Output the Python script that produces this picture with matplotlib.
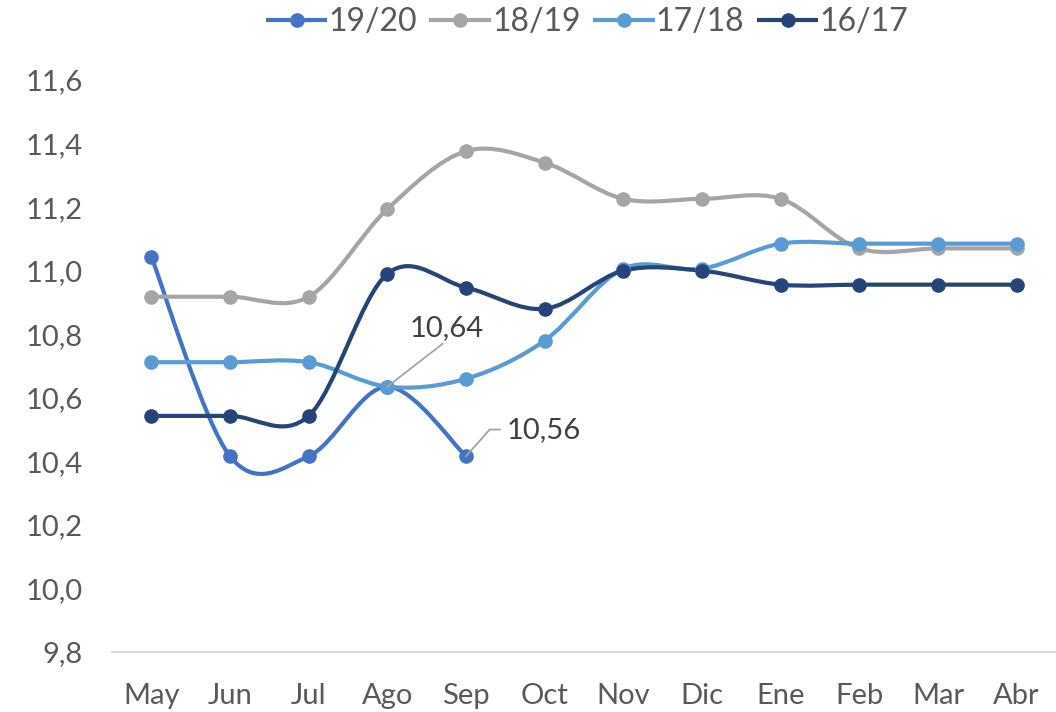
import matplotlib
matplotlib.use("Agg")
import matplotlib.pyplot as plt
from matplotlib.path import Path
from matplotlib.patches import PathPatch
from matplotlib.lines import Line2D
import numpy as np

plt.rcParams['font.family'] = ['Lato', 'DejaVu Sans']

months = ["May", "Jun", "Jul", "Ago", "Sep", "Oct", "Nov", "Dic", "Ene", "Feb", "Mar", "Abr"]
s1920 = [11.044, 10.416, 10.416, 10.635, 10.416]
s1819 = [10.918, 10.918, 10.918, 11.194, 11.376, 11.340, 11.226, 11.226, 11.226, 11.070, 11.070, 11.070]
s1718 = [10.712, 10.712, 10.712, 10.635, 10.660, 10.780, 11.006, 11.006, 11.085, 11.085, 11.085, 11.085]
s1617 = [10.543, 10.543, 10.543, 10.990, 10.947, 10.880, 11.000, 11.000, 10.956, 10.956, 10.956, 10.956]
labels = ["19/20", "18/19", "17/18", "16/17"]
colors = ["#4472C4", "#A5A5A5", "#5B9BD5", "#264478"]
series = [s1920, s1819, s1718, s1617]
yticks = [9.8, 10.0, 10.2, 10.4, 10.6, 10.8, 11.0, 11.2, 11.4, 11.6]

fig = plt.figure(figsize=(10.56, 7.12), dpi=100)
ax = fig.add_axes([112/1056, 60/712, 1 - 112/1056, 572/712])

def smooth_path(x, y):
    pts = np.column_stack([x, y]).astype(float)
    n = len(pts)
    verts = [pts[0]]
    codes = [Path.MOVETO]
    for i in range(n - 1):
        p0 = pts[i - 1] if i > 0 else pts[i]
        p1 = pts[i]
        p2 = pts[i + 1]
        p3 = pts[i + 2] if i + 2 < n else pts[i + 1]
        c1 = p1 + (p2 - p0) / 6.0
        c2 = p2 - (p3 - p1) / 6.0
        verts += [c1, c2, p2]
        codes += [Path.CURVE4] * 3
    return Path(verts, codes)

handles = []
for s, lab, col in zip(series, labels, colors):
    x = np.arange(len(s))
    ax.add_patch(PathPatch(smooth_path(x, s), facecolor='none', edgecolor=col,
                           lw=3.0, capstyle='round', joinstyle='round'))
    ax.plot(x, s, linestyle='none', marker='o', markersize=9.5, color=col)
    handles.append(Line2D([], [], color=col, lw=3.0, marker='o', markersize=9.5))

# data labels
ax.annotate("10,64", xy=(3, s1920[3]), xytext=(3.75, 10.82), fontsize=21, color="#404040",
            ha='center', va='center',
            arrowprops=dict(arrowstyle='-', color='#A5A5A5', lw=1.3, shrinkA=0, shrinkB=0,
                            relpos=(0.5, 0.0)))
ax.plot([4, 4.3, 4.43], [s1920[4], 10.5, 10.5], color='#A5A5A5', lw=1.3)
ax.text(4.52, 10.5, "10,56", fontsize=21, color="#404040", ha='left', va='center')

ax.set_xlim(-0.5, 11.5)
ax.set_ylim(9.8, 11.6)
ax.set_yticks(yticks)
ax.set_yticklabels([f"{v:.1f}".replace('.', ',') for v in yticks])
ax.set_xticks(range(len(months)))
ax.set_xticklabels(months)
ax.tick_params(axis='both', length=0, labelsize=21, colors='#595959')
ax.tick_params(axis='x', pad=22)
ax.tick_params(axis='y', pad=21)
for side in ['top', 'right', 'left']:
    ax.spines[side].set_visible(False)
ax.spines['bottom'].set_color('#D9D9D9')
ax.spines['bottom'].set_linewidth(1.5)

fig.legend(handles, labels, loc='center', bbox_to_anchor=(588/1056, 1 - 22/712), ncol=4,
           frameon=False, fontsize=23, labelcolor='#595959', handlelength=1.8,
           handletextpad=0.1, columnspacing=0.45)

fig.savefig("out.png", dpi=100)
